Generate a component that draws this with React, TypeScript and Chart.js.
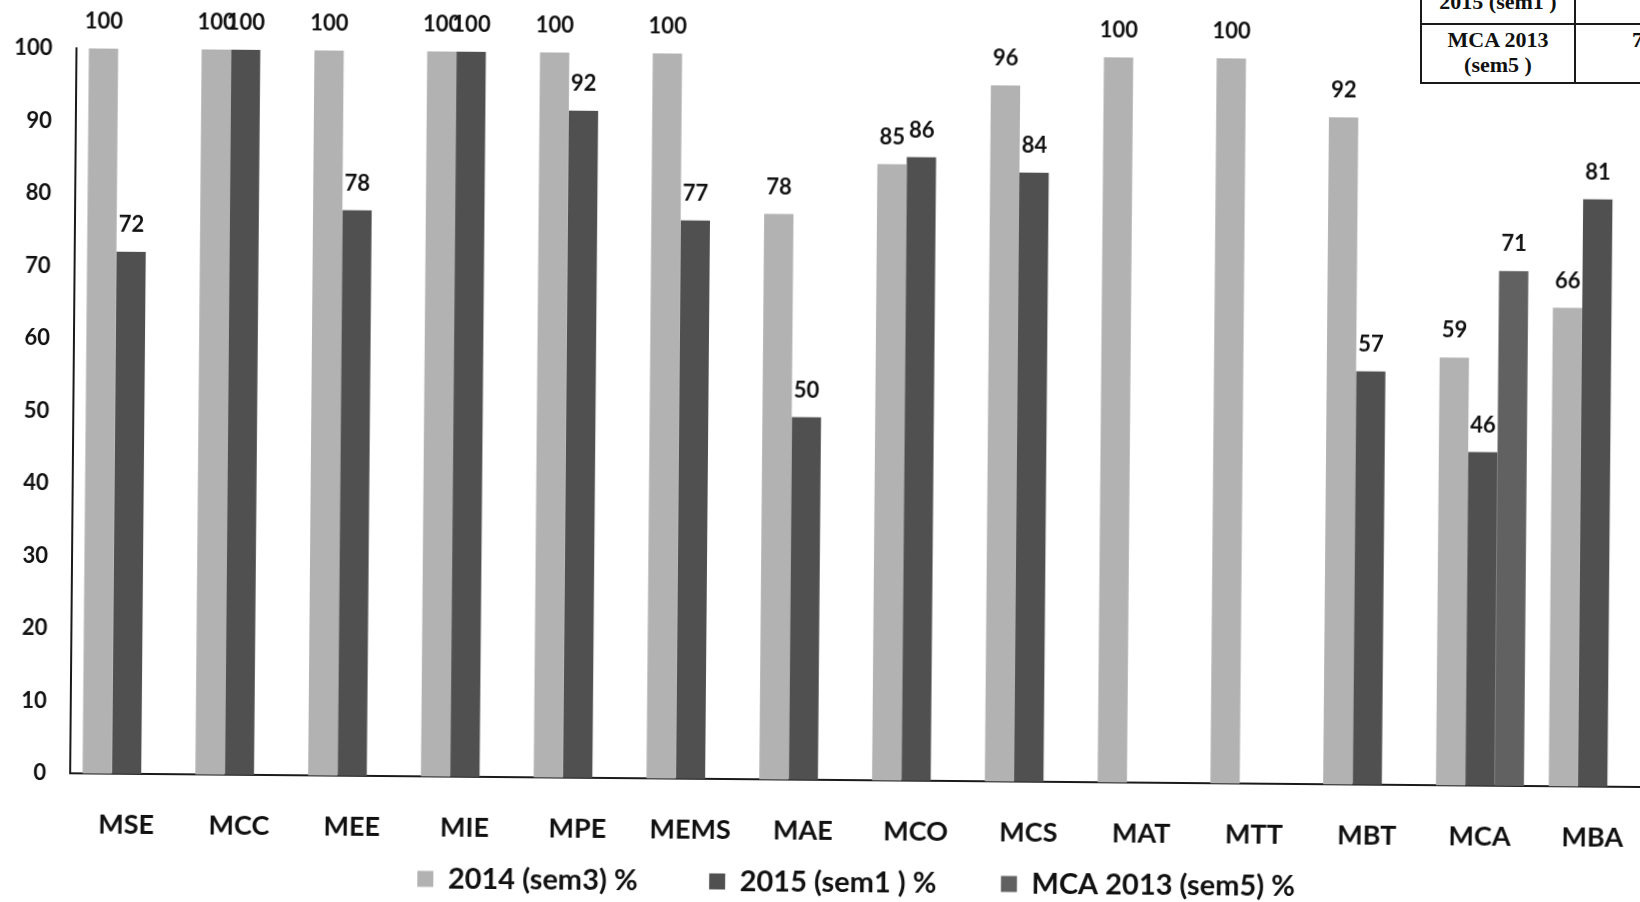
import React, { useEffect, useRef } from 'react';
import { Chart, registerables } from 'chart.js';

Chart.register(...registerables);

const categories = ['MSE', 'MCC', 'MEE', 'MIE', 'MPE', 'MEMS', 'MAE', 'MCO', 'MCS', 'MAT', 'MTT', 'MBT', 'MCA', 'MBA'];
const sem3_2014 = [100, 100, 100, 100, 100, 100, 78, 85, 96, 100, 100, 92, 59, 66];
const sem1_2015 = [72, 100, 78, 100, 92, 77, 50, 86, 84, null, null, 57, 46, 81];
const mca2013_sem5 = [null, null, null, null, null, null, null, null, null, null, null, null, 71, null];
const seriesNames = ['2014 (sem3) %', '2015 (sem1 ) %', 'MCA 2013 (sem5) %'];
const yTicks = [0, 10, 20, 30, 40, 50, 60, 70, 80, 90, 100];
const tableRows = ['2015 (sem1 )', 'MCA 2013', '(sem5 )'];
const tableValue = '71';

const FONT = 'Lato, "Open Sans", sans-serif';
const legendSpacers = ['         ', '        ', ''];

const valueLabels = {
  id: 'valueLabels',
  afterDatasetsDraw(chart: any) {
    const ctx = chart.ctx;
    ctx.save();
    ctx.font = `bold 22px ${FONT}`;
    ctx.fillStyle = '#111';
    ctx.textAlign = 'center';
    ctx.textBaseline = 'middle';
    chart.data.datasets.forEach((ds: any, i: number) => {
      const meta = chart.getDatasetMeta(i);
      meta.data.forEach((el: any, j: number) => {
        const v = ds.data[j];
        if (v == null) return;
        ctx.fillText(String(v), el.x, el.y - 27);
      });
    });
    ctx.restore();
  },
};

const legendShift = {
  id: 'legendShift',
  afterLayout(chart: any) {
    const lg = chart.legend;
    if (!lg) return;
    lg.left += 34;
    lg.right += 34;
    lg.top += 5;
    lg.bottom += 5;
  },
};

export default function App() {
  const ref = useRef<HTMLCanvasElement | null>(null);

  useEffect(() => {
    if (!ref.current) return;
    const chart = new Chart(ref.current, {
      type: 'bar',
      data: {
        labels: categories,
        datasets: [
          { label: seriesNames[0], data: sem3_2014, backgroundColor: '#b2b2b2' },
          { label: seriesNames[1], data: sem1_2015, backgroundColor: '#505050' },
          { label: seriesNames[2], data: mca2013_sem5, backgroundColor: '#616161' },
        ],
      },
      options: {
        responsive: false,
        animation: false,
        datasets: { bar: { categoryPercentage: 0.78, barPercentage: 1.0, borderWidth: 0 } },
        layout: { padding: { top: 55, right: 28, bottom: 0, left: 0 } },
        scales: {
          x: {
            grid: { display: false, drawTicks: false },
            border: { display: true, color: '#1a1a1a', width: 2 },
            ticks: { color: '#111', font: { family: FONT, size: 27, weight: 'bold' }, padding: 35, maxRotation: 0, autoSkip: false },
            afterFit: (s: any) => { s.height = 75; },
          },
          y: {
            min: 0,
            max: 100,
            grid: { display: false, drawTicks: false },
            border: { display: true, color: '#1a1a1a', width: 2 },
            ticks: { color: '#111', font: { family: FONT, size: 22, weight: 'bold' }, padding: 24 },
            afterBuildTicks: (s: any) => { s.ticks = yTicks.map((v) => ({ value: v })); },
            afterFit: (s: any) => { s.width = 73; },
          },
        },
        plugins: {
          legend: {
            position: 'bottom',
            labels: {
              color: '#111',
              font: { family: FONT, size: 29, weight: 'bold' },
              boxWidth: 16,
              boxHeight: 16,
              padding: 8,
              generateLabels: (c: any) => {
                const items = Chart.defaults.plugins.legend.labels.generateLabels(c);
                return items.map((it: any, i: number) => ({ ...it, text: it.text + legendSpacers[i], lineWidth: 0 }));
              },
            },
          },
          tooltip: { enabled: false },
        },
      },
      plugins: [valueLabels, legendShift],
    });
    return () => chart.destroy();
  }, []);

  const serif = '"Liberation Serif", "DejaVu Serif", serif';
  const line = '#1a1a1a';

  return (
    <div style={{ position: 'fixed', left: 0, top: 0, width: 1640, height: 902, overflow: 'hidden', background: '#fff' }}>
      <div style={{ position: 'absolute', left: 0, top: 0, width: 1680, height: 902, transform: 'rotate(0.5deg)', transformOrigin: '840px 451px' }}>
        <canvas ref={ref} width={1680} height={902} style={{ display: 'block', width: 1680, height: 902 }} />
      </div>
      <div style={{ position: 'absolute', left: 1420, top: -40, width: 260, height: 124, border: `2px solid ${line}`, background: '#fff', boxSizing: 'border-box' }} />
      <div style={{ position: 'absolute', left: 1420, top: 23, width: 260, height: 2, background: line }} />
      <div style={{ position: 'absolute', left: 1574, top: -40, width: 2, height: 124, background: line }} />
      <div style={{ position: 'absolute', left: 1422, top: -11, width: 152, textAlign: 'center', font: `bold 22px/26px ${serif}`, color: '#111', whiteSpace: 'nowrap' }}>{tableRows[0]}</div>
      <div style={{ position: 'absolute', left: 1422, top: 27, width: 152, textAlign: 'center', font: `bold 22px/25px ${serif}`, color: '#111', whiteSpace: 'nowrap' }}>
        <div>{tableRows[1]}</div>
        <div>{tableRows[2]}</div>
      </div>
      <div style={{ position: 'absolute', left: 1632, top: 27, font: `bold 22px/25px ${serif}`, color: '#111', whiteSpace: 'nowrap' }}>{tableValue}</div>
    </div>
  );
}
